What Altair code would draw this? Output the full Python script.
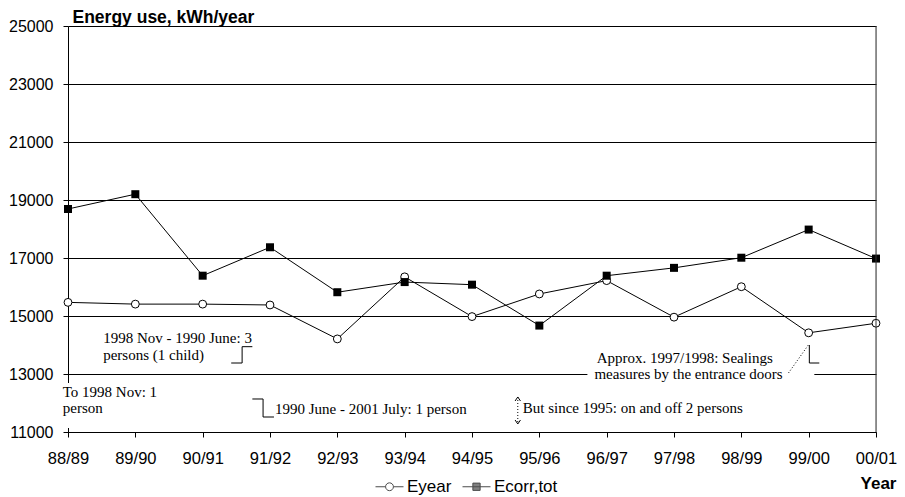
import altair as alt
import pandas as pd

# ---- data ----
years = ["88/89", "89/90", "90/91", "91/92", "92/93", "93/94", "94/95",
         "95/96", "96/97", "97/98", "98/99", "99/00", "00/01"]
eyear = [15470, 15410, 15410, 15380, 14210, 16350, 14980,
         15760, 16220, 14960, 16010, 14420, 14750]
ecorr = [18690, 19200, 16390, 17370, 15820, 16170, 16080,
         14670, 16390, 16660, 17010, 17980, 16980]
series_names = ["Eyear", "Ecorr,tot"]
y_ticks = [11000, 13000, 15000, 17000, 19000, 21000, 23000, 25000]

# annotations (text, in data units: year index / kWh)
note_text = ["1998 Nov - 1990 June: 3", "persons (1 child)",
             "To 1998 Nov: 1", "person",
             "1990 June - 2001 July: 1 person",
             "But since 1995: on and off 2 persons",
             "Approx. 1997/1998: Sealings", "measures by the entrance doors"]
note_x = [0.522, 0.522, -0.078, -0.078, 3.074, 6.754, 7.851, 7.818]
note_y = [14069, 13483, 12207, 11638, 11621, 11655, 13379, 12828]

# annotation strokes
solid_grp = ["s1"] * 4 + ["s2"] * 4 + ["a1"] * 3 + ["a2"] * 3 + ["L"] * 3
solid_x = [2.424, 2.586, 2.586, 2.738,
           2.738, 2.897, 2.897, 3.059,
           6.640, 6.680, 6.720,
           6.640, 6.680, 6.720,
           11.010, 11.010, 11.158]
solid_y = [13379, 13379, 13942, 13942,
           12138, 12138, 11517, 11517,
           12069, 12207, 12069,
           11414, 11276, 11414,
           14000, 13379, 13379]
dot_grp = ["d1", "d1", "d2", "d2"]
dot_x = [6.680, 6.680, 10.700, 10.995]
dot_y = [12207, 11276, 13034, 14000]

# white boxes behind annotation text
box_x = [7.714, -0.089]
box_x2 = [11.084, 1.36]
box_y = [12690, 11138]
box_y2 = [13310, 12690]

# ---- tables ----
rows = []
for i, yr in enumerate(years):
    rows.append({"i": i, "year": yr, "series": "Eyear", "value": eyear[i]})
    rows.append({"i": i, "year": yr, "series": "Ecorr,tot", "value": ecorr[i]})
df = pd.DataFrame(rows)

notes = pd.DataFrame({"x": note_x, "y": note_y, "t": note_text})
solid = pd.DataFrame({"g": solid_grp, "x": solid_x, "y": solid_y,
                      "k": list(range(len(solid_x)))})
dots = pd.DataFrame({"g": dot_grp, "x": dot_x, "y": dot_y,
                     "k": list(range(len(dot_x)))})
boxes = pd.DataFrame({"x": box_x, "x2": box_x2, "y": box_y, "y2": box_y2})
legend_df = pd.DataFrame({"series": series_names})

label_expr = "[" + ",".join("'%s'" % y for y in years) + "][datum.value]"

W, H = 808, 406
SANS = "Liberation Sans"
SERIF = "Liberation Serif"

xscale = alt.Scale(domain=[0, len(years) - 1], nice=False, zero=False)
yscale = alt.Scale(domain=[11000, 25000], nice=False, zero=False)

x_enc = alt.X("i:Q", scale=xscale, title="Year",
              axis=alt.Axis(values=list(range(len(years))), labelExpr=label_expr,
                            grid=False, tickSize=5, labelPadding=13,
                            labelFont=SANS, labelFontSize=16.5, labelColor="black",
                            domainColor="black", tickColor="black",
                            titleFont=SANS, titleFontSize=17, titleFontWeight="bold",
                            titleColor="black", titleAlign="right",
                            titleBaseline="alphabetic", titleX=828, titleY=56,
                            labelFlush=False))
y_enc = alt.Y("value:Q", scale=yscale, title="Energy use, kWh/year",
              axis=alt.Axis(values=y_ticks, format="d", grid=True,
                            gridColor="black", gridOpacity=1, gridWidth=1,
                            tickSize=5, labelPadding=10,
                            labelFont=SANS, labelFontSize=16, labelColor="black",
                            domainColor="black", tickColor="black",
                            titleFont=SANS, titleFontSize=17.5, titleFontWeight="bold",
                            titleColor="black", titleAngle=0, titleAlign="left",
                            titleBaseline="alphabetic", titleX=4, titleY=-4))

base = alt.Chart(df)

lines = base.mark_line(color="black", strokeWidth=1).encode(
    x=x_enc, y=y_enc, detail="series:N", order="i:Q")

circles = base.transform_filter(alt.datum.series == "Eyear").mark_point(
    shape="circle", size=62, filled=True, fill="white", stroke="black",
    strokeWidth=1, opacity=1).encode(x="i:Q", y="value:Q")

squares = base.transform_filter(alt.datum.series == "Ecorr,tot").mark_point(
    shape="square", size=64, filled=True, color="black", opacity=1
).encode(x="i:Q", y="value:Q")

right_border = alt.Chart(legend_df.head(1)).mark_rule(color="#333333", strokeWidth=1).encode(
    x=alt.datum(len(years) - 1), y=alt.datum(11000), y2=alt.datum(25000))

box_layer = alt.Chart(boxes).mark_rect(fill="white", stroke=None).encode(
    x="x:Q", x2="x2", y="y:Q", y2="y2")

solid_layer = alt.Chart(solid).mark_line(color="black", strokeWidth=1).encode(
    x="x:Q", y="y:Q", detail="g:N", order="k:Q")

dot_layer = alt.Chart(dots).mark_line(color="black", strokeWidth=1,
                                      strokeDash=[1, 2]).encode(
    x="x:Q", y="y:Q", detail="g:N", order="k:Q")

text_layer = alt.Chart(notes).mark_text(
    align="left", baseline="alphabetic", font=SERIF, fontSize=15, color="black"
).encode(x="x:Q", y="y:Q", text="t:N")

circle_path = ("M-1,0H-0.28M0.28,0H1"
               "M-0.28,0A0.28,0.28,0,1,1,0.28,0A0.28,0.28,0,1,1,-0.28,0Z")
square_path = "M-1,0H1M-0.26,-0.26H0.26V0.26H-0.26Z"

leg = dict(title=None, orient="none", legendX=307, legendY=446,
           direction="horizontal", symbolSize=784, symbolStrokeWidth=1,
           symbolStrokeColor="black", labelFont=SANS, labelFontSize=17,
           labelColor="black", labelOffset=3, columnPadding=8)

legend_layer = alt.Chart(legend_df).mark_point(
    filled=False, stroke="black", strokeWidth=1, clip=True
).encode(
    x=alt.value(0), y=alt.value(-1000),
    shape=alt.Shape("series:N", scale=alt.Scale(domain=series_names,
                                                 range=[circle_path, square_path]),
                    legend=alt.Legend(**leg)),
    fill=alt.Fill("series:N", scale=alt.Scale(domain=series_names,
                                               range=["white", "black"]),
                  legend=alt.Legend(**leg)),
    stroke=alt.Stroke("series:N", scale=alt.Scale(domain=series_names,
                                                   range=["black", "black"]),
                      legend=alt.Legend(**leg)),
)

chart = alt.layer(
    lines, circles, squares, right_border, box_layer,
    solid_layer, dot_layer, text_layer, legend_layer
).properties(
    width=W, height=H,
    autosize=alt.AutoSizeParams(type="none"),
    padding={"left": 60, "top": 18, "right": 21, "bottom": 63},
).configure_view(stroke=None).configure(background="white")

chart.save("out.html", embed_options={"renderer": "svg", "actions": False})
